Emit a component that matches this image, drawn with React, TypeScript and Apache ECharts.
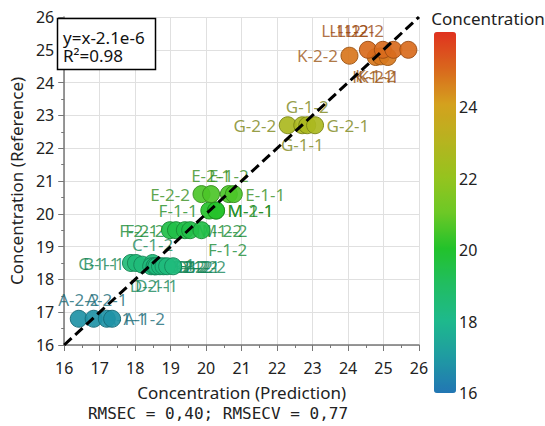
import React, { useEffect, useRef } from "react";
import * as echarts from "echarts";

// ---- data ----
const sampleNames = [
  "A-2-2", "A-1-1", "A-2-1", "A-1-2",
  "C-1-1", "B-1-1", "C-2-1", "C-1-2", "D-2-1", "C-2-2", "D-2-2", "D-1-1", "B-1-2", "D-1-2", "B-2-1", "B-2-2",
  "F-2-1", "F-2-2", "M-1-2", "M-2-2", "F-1-2",
  "F-1-1", "M-1-1", "M-2-1",
  "E-2-2", "E-2-1", "E-1-2", "E-1-1",
  "G-2-2", "G-1-1", "G-1-2", "G-2-1",
  "K-2-2", "K-1-1", "K-1-2", "K-2-1",
  "L-1-1", "L-1-2", "L-2-1", "L-2-2",
];
const predicted = [
  16.41, 16.83, 17.2, 17.35,
  17.88, 18.02, 18.2, 18.49, 18.45, 18.55, 18.55, 18.6, 18.7, 18.8, 18.9, 19.07,
  18.98, 19.15, 19.4, 19.55, 19.87,
  20.09, 20.28, 20.28,
  19.87, 20.14, 20.64, 20.78,
  22.3, 22.71, 22.85, 23.07,
  24.04, 24.78, 24.92, 25.12,
  24.56, 24.98, 25.28, 25.7,
];
const reference = [
  16.8, 16.8, 16.8, 16.8,
  18.5, 18.5, 18.45, 18.5, 18.4, 18.4, 18.4, 18.4, 18.4, 18.4, 18.4, 18.4,
  19.5, 19.5, 19.5, 19.5, 19.5,
  20.1, 20.1, 20.1,
  20.6, 20.6, 20.6, 20.6,
  22.7, 22.7, 22.7, 22.7,
  24.82, 24.78, 24.8, 24.78,
  25.0, 25.0, 25.0, 25.0,
];
const identityLine = [[16, 16], [26, 26]];
const fitText = ["y=x-2.1e-6", "R\u00b2=0.98"];
const footerText = "RMSEC = 0,40; RMSECV = 0,77";

// ---- styling (label placement per sample, colour scale) ----
const labelPlacement: Record<string, [string, number]> = {
  "A-2-2": ["top", 0], "A-1-1": ["right", 0], "A-2-1": ["top", 0], "A-1-2": ["right", 0],
  "C-1-1": ["left", 0], "B-1-1": ["left", 0], "C-2-1": ["right", 0], "C-1-2": ["top", 0],
  "D-2-1": ["bottom", 0], "C-2-2": ["right", 0], "D-2-2": ["right", 0], "D-1-1": ["bottom", 0],
  "B-1-2": ["right", 0], "D-1-2": ["right", 0], "B-2-1": ["right", 0], "B-2-2": ["right", 0],
  "F-2-1": ["left", 0], "F-2-2": ["left", 0], "M-1-2": ["right", 0], "M-2-2": ["right", 0],
  "F-1-2": ["bottom", 26], "F-1-1": ["left", 0], "M-1-1": ["right", 0], "M-2-1": ["right", 0],
  "E-2-2": ["left", 0], "E-2-1": ["top", 0], "E-1-2": ["top", 0], "E-1-1": ["right", 0],
  "G-2-2": ["left", 0], "G-1-1": ["bottom", 0], "G-1-2": ["top", 0], "G-2-1": ["right", 0],
  "K-2-2": ["left", 0], "K-1-1": ["bottom", -3], "K-1-2": ["bottom", -5], "K-2-1": ["bottom", -9],
  "L-1-1": ["top", -27], "L-1-2": ["top", -34], "L-2-1": ["top", -37], "L-2-2": ["top", -44],
};
const colorScale = [
  "#2276b4", "#1f9ba2", "#1eb98c", "#21bd62", "#22c22b", "#6dc826",
  "#96c31e", "#b7b31f", "#d4a11e", "#d9661d", "#e0321f",
];
const cMin = 16;
const cMax = 26.1;
const FONT = "Noto Sans";

function hexToRgb(h: string) {
  const n = parseInt(h.slice(1), 16);
  return [(n >> 16) & 255, (n >> 8) & 255, n & 255];
}
function colorAt(v: number, k = 1) {
  const t = Math.min(1, Math.max(0, (v - cMin) / (cMax - cMin))) * (colorScale.length - 1);
  const i = Math.min(colorScale.length - 2, Math.floor(t));
  const f = t - i;
  const a = hexToRgb(colorScale[i]);
  const b = hexToRgb(colorScale[i + 1]);
  const c = a.map((x, j) => Math.round((x + (b[j] - x) * f) * k));
  return `rgb(${c[0]},${c[1]},${c[2]})`;
}

export default function App() {
  const ref = useRef<HTMLDivElement>(null);
  useEffect(() => {
    if (!ref.current) return;
    const chart = echarts.init(ref.current, undefined, { renderer: "svg" });
    const pts = predicted.map((x, i) => [x, reference[i]]);
    const axisCommon = {
      min: 16,
      max: 26,
      interval: 1,
      axisLine: { show: true, lineStyle: { color: "#777", width: 1.5 } },
      axisTick: { show: true, length: 6, lineStyle: { color: "#777" } },
      minorTick: { show: true, splitNumber: 2, length: 3, lineStyle: { color: "#777" } },
      splitLine: { show: true, lineStyle: { color: "#e0e0e0", width: 1 } },
      nameLocation: "middle" as const,
      nameTextStyle: { fontFamily: FONT, fontSize: 17, color: "#222" },
    };
    chart.setOption({
      animation: false,
      backgroundColor: "#fff",
      grid: [
        { left: 57, top: 17, width: 362, height: 328 },
        { left: 434, top: 32, width: 22, height: 361 },
      ],
      xAxis: [
        {
          ...axisCommon,
          type: "value",
          name: "Concentration (Prediction)",
          nameGap: 39,
          axisLabel: { fontFamily: FONT, fontSize: 16, color: "#222", margin: 15 },
        },
        { type: "value", gridIndex: 1, show: false },
      ],
      yAxis: [
        {
          ...axisCommon,
          type: "value",
          name: "Concentration (Reference)",
          nameGap: 32,
          axisLabel: { fontFamily: FONT, fontSize: 16, color: "#222", margin: 10 },
        },
        {
          type: "value",
          gridIndex: 1,
          position: "right",
          min: cMin,
          max: cMax,
          interval: 2,
          axisLine: { show: false },
          axisTick: { show: false },
          splitLine: { show: false },
          axisLabel: {
            fontFamily: FONT,
            fontSize: 16,
            color: "#222",
            margin: 3,
            formatter: (v: number) => (Math.abs(v % 2) < 1e-9 && v <= 24 ? String(v) : ""),
          },
        },
      ],
      visualMap: {
        type: "continuous",
        seriesIndex: 1,
        dimension: 1,
        min: cMin,
        max: cMax,
        left: 434,
        top: 32,
        itemWidth: 22,
        itemHeight: 361,
        padding: 0,
        calculable: false,
        text: ["", ""],
        showLabel: false,
        inRange: { color: colorScale },
      },
      series: [
        {
          type: "scatter",
          z: 1,
          silent: true,
          symbolSize: 17,
          itemStyle: { color: "rgba(0,0,0,0)" },
          data: pts.map((p, i) => {
            const pl = labelPlacement[sampleNames[i]] || ["top", 0];
            return {
              name: sampleNames[i],
              value: p,
              label: {
                show: true,
                position: pl[0],
                offset: [pl[1], 0],
                distance: pl[0] === "left" || pl[0] === "right" ? 3 : 2,
                formatter: "{b}",
                fontFamily: FONT,
                fontSize: 17,
                color: colorAt(p[1], 0.72),
              },
            };
          }),
        },
        {
          type: "scatter",
          z: 2,
          silent: true,
          symbolSize: 17,
          data: pts.map((p, i) => ({
            name: sampleNames[i],
            value: p,
            itemStyle: { borderColor: colorAt(p[1], 0.72), borderWidth: 1, opacity: 0.92 },
          })),
        },
        {
          type: "line",
          z: 3,
          silent: true,
          symbol: "none",
          data: identityLine,
          lineStyle: { color: "#000", width: 3, type: [10, 5] },
        },
      ],
      graphic: [
        {
          type: "rect",
          z: 10,
          shape: { x: 57.5, y: 18.5, width: 98, height: 51 },
          style: { fill: "#fff", stroke: "#000", lineWidth: 1.5 },
        },
        {
          type: "text",
          z: 11,
          x: 63,
          y: 37,
          style: { text: fitText[0], fontFamily: FONT, fontSize: 17, fill: "#111", verticalAlign: "middle" },
        },
        {
          type: "text",
          z: 11,
          x: 63,
          y: 55,
          style: { text: fitText[1], fontFamily: FONT, fontSize: 17, fill: "#111", verticalAlign: "middle" },
        },
        {
          type: "text",
          x: 488,
          y: 18,
          style: {
            text: "Concentration",
            fontFamily: FONT,
            fontSize: 17,
            fill: "#222",
            align: "center",
            verticalAlign: "middle",
          },
        },
        {
          type: "text",
          x: 218,
          y: 413,
          style: {
            text: footerText,
            fontFamily: "DejaVu Sans Mono",
            fontSize: 16,
            fill: "#222",
            align: "center",
            verticalAlign: "middle",
          },
        },
      ],
    });
    return () => chart.dispose();
  }, []);
  return (
    <div
      ref={ref}
      style={{ position: "fixed", left: 0, top: 0, width: 545, height: 426, background: "#fff" }}
    />
  );
}
